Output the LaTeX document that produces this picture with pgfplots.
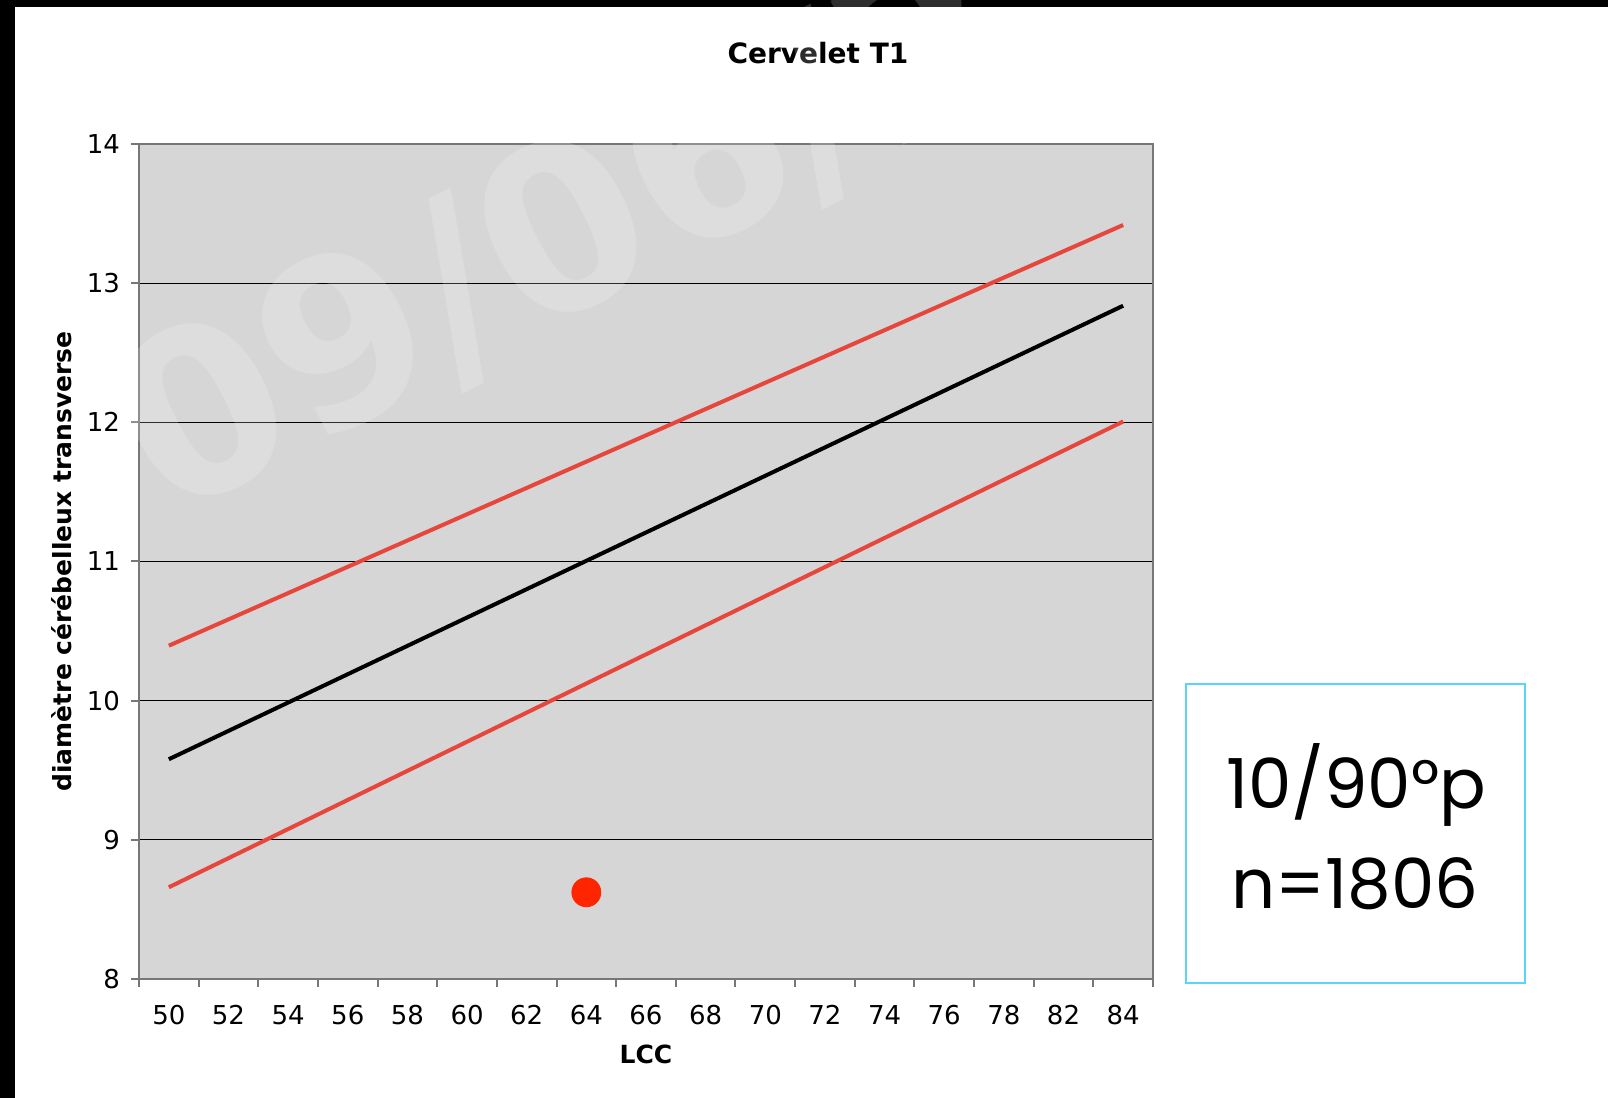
\documentclass[border=0pt]{standalone}
\usepackage{fontspec}
\setmainfont{DejaVu Sans}
\newfontfamily\boxfont{Poppins}
\usepackage{pgfplots}
\pgfplotsset{compat=1.18}
\definecolor{bgplot}{HTML}{D6D6D6}
\definecolor{lred}{HTML}{E6463C}
\definecolor{dotred}{HTML}{FF2500}
\definecolor{boxcyan}{HTML}{5CD3FA}
\definecolor{axgray}{HTML}{777777}
\begin{document}
\begin{tikzpicture}
\useasboundingbox (0,0) rectangle (804pt,549pt);
\clip (0,0) rectangle (804pt,549pt);
\fill[white] (0,0) rectangle (804pt,549pt);
\begin{axis}[
  at={(69.5pt,59.5pt)}, anchor=south west,
  scale only axis, width=507pt, height=417.5pt,
  xmin=-0.5, xmax=16.5, ymin=8, ymax=14,
  xtick={-0.5,0.5,...,16.5},
  x tick label as interval,
  xticklabels={50,52,54,56,58,60,62,64,66,68,70,72,74,76,78,82,84},
  ytick={8,...,14},
  tick align=outside, xtick pos=left, ytick pos=left,
  major tick length=4pt,
  tick style={axgray, line width=1pt},
  axis line style={axgray, line width=1pt},
  ymajorgrids, grid style={black, line width=0.5pt},
  axis background/.style={fill=bgplot},
  /pgf/number format/assume math mode=true,
  tick label style={font=\fontsize{13}{13}\selectfont},
  xticklabel style={yshift=-5.6pt},
  yticklabel style={xshift=-2pt},
  xlabel={LCC}, ylabel={diamètre cérébelleux transverse},
  label style={font=\bfseries\fontsize{12.5}{12.5}\selectfont},
  xlabel style={at={(axis description cs:0.5,-0.0898)}, anchor=center},
  ylabel style={at={(axis description cs:-0.0764,0.5)}, anchor=center},
]
\addplot[lred, line width=2pt] coordinates {(0,10.395) (16,13.418)};
\addplot[black, line width=2pt] coordinates {(0,9.579) (16,12.838)};
\addplot[lred, line width=2pt] coordinates {(0,8.659) (16,12.006)};
\addplot[only marks, mark=*, mark size=7.25pt, mark options={fill=dotred, draw=dotred}] coordinates {(7,8.623)};
\end{axis}
\node[font=\bfseries\fontsize{14}{14}\selectfont] at (409pt,522.5pt) {Cervelet T1};
\draw[boxcyan, line width=1pt] (593pt,57.5pt) rectangle (762.5pt,207pt);
\node[anchor=base, inner sep=0, font=\boxfont\fontsize{34.5}{34.5}\selectfont] at (678pt,144.5pt) {10/90°p};
\node[anchor=base, inner sep=0, font=\boxfont\fontsize{34.5}{34.5}\selectfont] at (677.5pt,94.7pt) {n=1806};
\fill[black] (0,0) rectangle (7.5pt,549pt);
\fill[black] (0,545.5pt) rectangle (804pt,549pt);
\node[rotate=27, anchor=base west, inner sep=0, text=white, text opacity=0.18, font=\bfseries\fontsize{115}{115}\selectfont] at (83.5pt,288.5pt) {09/06/2};
\end{tikzpicture}
\end{document}
